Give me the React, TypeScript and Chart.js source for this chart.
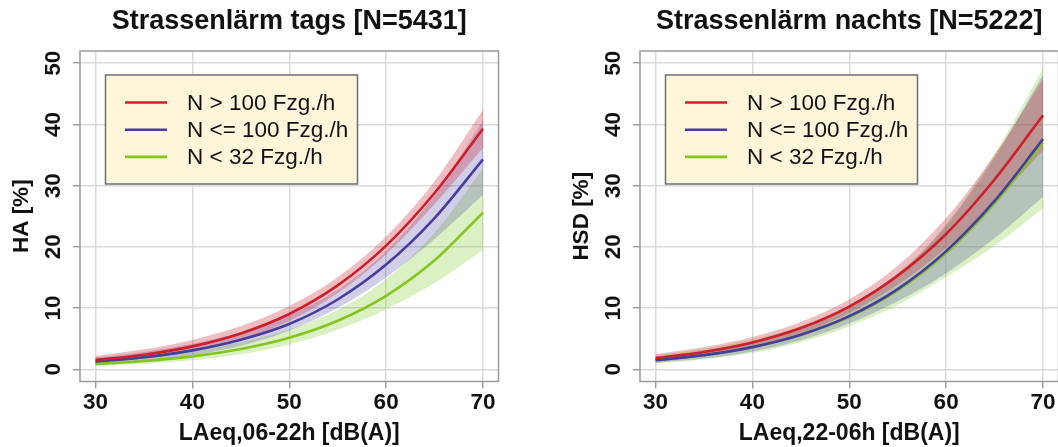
import React, { useEffect, useRef } from 'react';
import { Chart, registerables } from 'chart.js';

Chart.register(...registerables);

const FONT = '"Liberation Sans", Arial, Helvetica, sans-serif';

const X_VALUES = [30, 35, 40, 45, 50, 55, 60, 65, 70];
const X_TICKS = [30, 40, 50, 60, 70];
const Y_TICKS = [0, 10, 20, 30, 40, 50];
const SERIES_LABELS = ['N > 100 Fzg./h', 'N <= 100 Fzg./h', 'N < 32 Fzg./h'];

// Strassenlärm tags
const TAGS_RED = [1.5, 2.37, 3.74, 5.85, 9.03, 13.7, 20.2, 28.8, 39.3];
const TAGS_RED_LO = [1.03, 1.74, 2.91, 4.84, 7.87, 12.44, 18.8, 27.0, 36.2];
const TAGS_RED_HI = [2.18, 3.25, 4.8, 7.05, 10.34, 15.04, 21.7, 30.7, 42.4];
const TAGS_BLUE = [1.24, 1.96, 3.09, 4.83, 7.4, 11.4, 17.1, 24.7, 34.3];
const TAGS_BLUE_LO = [0.79, 1.35, 2.28, 3.84, 6.33, 10.0, 15.0, 21.3, 28.5];
const TAGS_BLUE_HI = [1.93, 2.83, 4.16, 6.06, 8.83, 13.0, 19.3, 28.4, 40.7];
const TAGS_GREEN = [0.85, 1.34, 2.11, 3.31, 5.15, 7.93, 12.0, 17.8, 25.6];
const TAGS_GREEN_LO = [0.52, 0.88, 1.48, 2.47, 4.05, 6.47, 9.8, 14.1, 19.5];
const TAGS_GREEN_HI = [1.39, 2.05, 2.99, 4.42, 6.51, 9.69, 14.7, 22.3, 32.8];

// Strassenlärm nachts
const NACHTS_RED = [1.8, 2.82, 4.37, 6.73, 10.24, 15.3, 22.1, 31.0, 41.5];
const NACHTS_RED_LO = [1.31, 2.18, 3.61, 5.85, 9.19, 13.8, 19.8, 27.3, 35.8];
const NACHTS_RED_HI = [2.46, 3.62, 5.29, 7.74, 11.4, 16.9, 24.7, 35.0, 47.4];
const NACHTS_BLUE = [1.47, 2.31, 3.62, 5.64, 8.67, 13.1, 19.3, 27.5, 37.6];
const NACHTS_BLUE_LO = [1.04, 1.74, 2.91, 4.76, 7.48, 11.1, 15.7, 21.4, 28.2];
const NACHTS_BLUE_HI = [2.07, 3.07, 4.52, 6.67, 10.0, 15.4, 23.5, 34.6, 48.1];
const NACHTS_GREEN = [1.48, 2.32, 3.61, 5.6, 8.58, 12.9, 19.0, 27.1, 37.0];
const NACHTS_GREEN_LO = [0.95, 1.59, 2.68, 4.42, 7.0, 10.5, 15.1, 20.2, 26.3];
const NACHTS_GREEN_HI = [2.3, 3.35, 4.87, 7.08, 10.5, 15.7, 23.7, 35.2, 49.2];

const LINE_COLORS = ['#cc1f2b', '#473d9c', '#84c51f'];
const BAND_COLORS = ['rgba(200, 40, 55, 0.3)', 'rgba(70, 60, 165, 0.25)', 'rgba(125, 200, 40, 0.28)'];

type PanelCfg = {
  title: string;
  xTitle: string;
  yTitle: string;
  lines: number[][];
  lows: number[][];
  highs: number[][];
};

const PANELS: PanelCfg[] = [
  {
    title: 'Strassenlärm tags [N=5431]',
    xTitle: 'LAeq,06-22h [dB(A)]',
    yTitle: 'HA [%]',
    lines: [TAGS_RED, TAGS_BLUE, TAGS_GREEN],
    lows: [TAGS_RED_LO, TAGS_BLUE_LO, TAGS_GREEN_LO],
    highs: [TAGS_RED_HI, TAGS_BLUE_HI, TAGS_GREEN_HI],
  },
  {
    title: 'Strassenlärm nachts [N=5222]',
    xTitle: 'LAeq,22-06h [dB(A)]',
    yTitle: 'HSD [%]',
    lines: [NACHTS_RED, NACHTS_BLUE, NACHTS_GREEN],
    lows: [NACHTS_RED_LO, NACHTS_BLUE_LO, NACHTS_GREEN_LO],
    highs: [NACHTS_RED_HI, NACHTS_BLUE_HI, NACHTS_GREEN_HI],
  },
];

const W = 560;
const H = 447;

function Panel({ cfg, left }: { cfg: PanelCfg; left: number }) {
  const ref = useRef<HTMLCanvasElement>(null);
  useEffect(() => {
    if (!ref.current) return;
    const pts = (ys: number[]) => X_VALUES.map((x, i) => ({ x, y: ys[i] }));
    const datasets: any[] = [];
    cfg.lines.forEach((ys, i) => {
      datasets.push({
        label: SERIES_LABELS[i],
        data: pts(ys),
        borderColor: LINE_COLORS[i],
        borderWidth: 2.6,
        pointRadius: 0,
        pointHoverRadius: 0,
        fill: false,
        cubicInterpolationMode: 'monotone',
      });
    });
    cfg.lines.forEach((_, i) => {
      datasets.push({
        label: SERIES_LABELS[i] + ' hi',
        data: pts(cfg.highs[i]),
        borderWidth: 0,
        borderColor: 'rgba(0,0,0,0)',
        backgroundColor: BAND_COLORS[i],
        pointRadius: 0,
        pointHoverRadius: 0,
        fill: '+1',
        cubicInterpolationMode: 'monotone',
      });
      datasets.push({
        label: SERIES_LABELS[i] + ' lo',
        data: pts(cfg.lows[i]),
        borderWidth: 0,
        borderColor: 'rgba(0,0,0,0)',
        pointRadius: 0,
        pointHoverRadius: 0,
        fill: false,
        cubicInterpolationMode: 'monotone',
      });
    });

    const rPlot = {
      id: 'rPlot',
      afterDraw(chart: any) {
        const { ctx, chartArea: ca } = chart;
        const ys = chart.scales.y;
        ctx.save();
        // box
        ctx.strokeStyle = '#9a9a9a';
        ctx.lineWidth = 1.5;
        ctx.strokeRect(ca.left, ca.top, ca.right - ca.left, ca.bottom - ca.top);
        // y tick labels (rotated like R)
        ctx.fillStyle = '#111';
        ctx.font = `bold 22.5px ${FONT}`;
        ctx.textAlign = 'center';
        ctx.textBaseline = 'middle';
        Y_TICKS.forEach((v) => {
          const y = ys.getPixelForValue(v);
          ctx.save();
          ctx.translate(54, y);
          ctx.rotate(-Math.PI / 2);
          ctx.fillText(String(v), 0, 0);
          ctx.restore();
        });
        // main title
        ctx.font = `bold 27px ${FONT}`;
        ctx.textBaseline = 'alphabetic';
        ctx.fillText(cfg.title, (ca.left + ca.right) / 2, 29);
        // legend
        const lx = 105.5, ly = 75, lw = 252, lh = 109;
        ctx.fillStyle = '#fdf6da';
        ctx.fillRect(lx, ly, lw, lh);
        ctx.strokeStyle = '#6e6e6e';
        ctx.lineWidth = 1.5;
        ctx.strokeRect(lx, ly, lw, lh);
        ctx.font = `22.5px ${FONT}`;
        ctx.textAlign = 'left';
        ctx.textBaseline = 'middle';
        SERIES_LABELS.forEach((lab, i) => {
          const ry = 102.5 + i * 27.2;
          ctx.strokeStyle = LINE_COLORS[i];
          ctx.lineWidth = 2.6;
          ctx.beginPath();
          ctx.moveTo(125, ry);
          ctx.lineTo(167, ry);
          ctx.stroke();
          ctx.fillStyle = '#111';
          ctx.fillText(lab, 187, ry + 1);
        });
        ctx.restore();
      },
    };

    const chart = new Chart(ref.current, {
      type: 'line',
      data: { datasets },
      options: {
        responsive: false,
        animation: false,
        events: [],
        layout: { padding: { top: 51, right: W - 498.5, left: 0, bottom: 0 } },
        plugins: { legend: { display: false }, title: { display: false }, tooltip: { enabled: false } },
        scales: {
          x: {
            type: 'linear',
            min: 28.4,
            max: 71.6,
            afterBuildTicks: (s: any) => {
              s.ticks = X_TICKS.map((v) => ({ value: v }));
            },
            afterFit: (s: any) => {
              s.height = H - 381.5;
            },
            ticks: {
              autoSkip: false,
              maxRotation: 0,
              minRotation: 0,
              padding: 1,
              color: '#111',
              font: { family: FONT, size: 22.5, weight: 'bold' },
              callback: (v: any) => String(v),
            },
            grid: { color: '#dadada', lineWidth: 1.5, tickLength: 7, tickColor: '#8a8a8a', tickWidth: 1.2, drawTicks: true },
            border: { display: false },
            title: {
              display: true,
              text: cfg.xTitle,
              color: '#111',
              font: { family: FONT, size: 23, weight: 'bold' },
              padding: { top: 0, bottom: 0 },
            },
          },
          y: {
            type: 'linear',
            min: -2,
            max: 52,
            afterBuildTicks: (s: any) => {
              s.ticks = Y_TICKS.map((v) => ({ value: v }));
            },
            afterFit: (s: any) => {
              s.width = 80;
            },
            ticks: { display: false },
            grid: { color: '#dadada', lineWidth: 1.5, tickLength: 7, tickColor: '#8a8a8a', tickWidth: 1.2, drawTicks: true },
            border: { display: false },
            title: {
              display: true,
              text: cfg.yTitle,
              color: '#111',
              font: { family: FONT, size: 22.5, weight: 'bold' },
              padding: { top: 8, bottom: 0 },
            },
          },
        },
      },
      plugins: [rPlot],
    } as any);
    return () => chart.destroy();
  }, [cfg]);

  return (
    <div style={{ position: 'absolute', left, top: 0, width: W, height: H }}>
      <canvas ref={ref} width={W} height={H} style={{ display: 'block', width: W, height: H }} />
    </div>
  );
}

export default function App() {
  return (
    <div
      style={{
        position: 'fixed',
        left: 0,
        top: 0,
        width: 1058,
        height: 447,
        overflow: 'hidden',
        background: '#fff',
      }}
    >
      <Panel cfg={PANELS[0]} left={0} />
      <Panel cfg={PANELS[1]} left={560} />
    </div>
  );
}
